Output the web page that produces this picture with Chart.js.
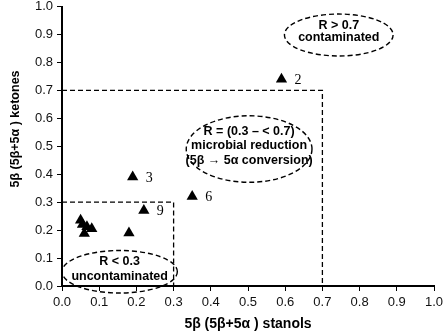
<!DOCTYPE html>
<html>
<head>
<meta charset="utf-8">
<script src="https://cdn.jsdelivr.net/npm/chart.js@4/dist/chart.umd.min.js"></script>
<style>
  html, body { margin: 0; padding: 0; background: #fff; }
  #wrap { width: 444px; height: 336px; }
</style>
</head>
<body>
<div id="wrap"><canvas id="graph" width="444" height="336"></canvas></div>
<script>
// sample values
var stanols = [0.59, 0.19, 0.35, 0.22, 0.18, 0.05, 0.055, 0.06, 0.067, 0.08];
var ketones = [0.74, 0.39, 0.32, 0.27, 0.19, 0.235, 0.22, 0.188, 0.212, 0.205];
var sampleNames = ['2', '3', '6', '9', '', '', '', '', '', ''];
// class limits
var limits = [0.3, 0.7];
// tick labels
var ticks = ['0.0', '0.1', '0.2', '0.3', '0.4', '0.5', '0.6', '0.7', '0.8', '0.9', '1.0'];
// region notes (text only)
var noteText = [
  ['R > 0.7', 'contaminated'],
  ['R = (0.3 \u2013 < 0.7)', 'microbial reduction', '(5\u03b2 \u2192 5\u03b1 conversion)'],
  ['R < 0.3', 'uncontaminated']
];

// where the dashed ellipses sit, in axis units
var notes = [
  { x: 0.744, y: 0.898, rx: 0.146, ry: 0.075, lh: 12 },
  { x: 0.503, y: 0.49, rx: 0.169, ry: 0.119, lh: 14.5 },
  { x: 0.155, y: 0.051, rx: 0.155, ry: 0.076, lh: 15 }
];

var drawGraph = function(){
  var ctx = document.getElementById('graph').getContext('2d');

  var points = stanols.map(function(v, i){ return {x: v, y: ketones[i]}; });
  var box = function(v){ return [{x: 0, y: v}, {x: v, y: v}, {x: v, y: 0}]; };

  var lineStyle = {
    type: 'line', fill: false, borderColor: '#000', borderWidth: 1.3,
    borderDash: [5, 3], pointRadius: 0, showLine: true, tension: 0
  };

  // dashed ellipses, sample names, axis titles
  var extras = {
    id: 'extras',
    afterDatasetsDraw: function(chart){
      var c = chart.ctx, xs = chart.scales.x, ys = chart.scales.y;
      c.save();
      // sample names
      c.fillStyle = '#000';
      c.font = '14px "Liberation Serif", "Times New Roman", serif';
      c.textAlign = 'left';
      c.textBaseline = 'middle';
      points.forEach(function(p, i){
        if (!sampleNames[i]) return;
        c.fillText(sampleNames[i], xs.getPixelForValue(p.x) + 13, ys.getPixelForValue(p.y) + 1);
      });
      // ellipses
      notes.forEach(function(n, i){
        var cx = xs.getPixelForValue(n.x), cy = ys.getPixelForValue(n.y);
        var rx = xs.getPixelForValue(n.x + n.rx) - cx;
        var ry = cy - ys.getPixelForValue(n.y + n.ry);
        c.beginPath();
        c.setLineDash([5, 3]);
        c.lineWidth = 1.4;
        c.strokeStyle = '#000';
        c.ellipse(cx, cy, rx, ry, 0, 0, Math.PI * 2);
        c.stroke();
        c.setLineDash([]);
        c.font = 'bold 12.5px "Liberation Sans", Arial, sans-serif';
        c.textAlign = 'center';
        var lines = noteText[i];
        var y0 = cy - 3 - (lines.length - 1) * n.lh / 2;
        lines.forEach(function(t, k){ c.fillText(t, cx, y0 + k * n.lh); });
      });
      // axis titles
      c.font = 'bold 14px "Liberation Sans", Arial, sans-serif';
      c.textAlign = 'center';
      c.fillText('5\u03b2 (5\u03b2+5\u03b1 ) stanols', (chart.chartArea.left + chart.chartArea.right) / 2, 324);
      c.translate(16, 129);
      c.rotate(-Math.PI / 2);
      c.font = 'bold 12.5px "Liberation Sans", Arial, sans-serif';
      c.fillText('5\u03b2 (5\u03b2+5\u03b1 ) ketones', 0, 0);
      c.restore();
    }
  };

  var axis = function(){
    return {
      type: 'linear', min: 0, max: 1,
      grid: { display: true, drawOnChartArea: false, drawTicks: true, tickLength: 5, color: '#000', lineWidth: 1 },
      border: { display: true, color: '#000', width: 2 },
      ticks: {
        stepSize: 0.1, color: '#111', padding: 4,
        font: { family: '"Liberation Sans", Arial, sans-serif', size: 13 },
        callback: function(v, i){ return ticks[i]; }
      }
    };
  };
  var xAxis = axis(), yAxis = axis();
  xAxis.afterFit = function(s){ s.height = 50; s.paddingLeft = 0; s.paddingRight = 0; };
  yAxis.afterFit = function(s){ s.width = 62; s.paddingTop = 0; s.paddingBottom = 0; };
  xAxis.ticks.maxRotation = 0;

  var config = {
    type: 'scatter',
    data: {
      datasets: [
        { label: 'samples', data: points, pointStyle: 'triangle', pointRadius: 6.5,
          backgroundColor: '#000', borderColor: '#000', borderWidth: 0 },
        Object.assign({ label: 'low', data: box(limits[0]) }, lineStyle),
        Object.assign({ label: 'high', data: box(limits[1]) }, lineStyle)
      ]
    },
    options: {
      animation: false,
      responsive: false,
      layout: { padding: { top: 6, right: 10, left: 0, bottom: 0 } },
      plugins: { legend: { display: false }, tooltip: { enabled: false } },
      scales: { x: xAxis, y: yAxis }
    },
    plugins: [extras]
  };
  new Chart(ctx, config);
};

window.onload = function(){
  drawGraph();
};
</script>
</body>
</html>
